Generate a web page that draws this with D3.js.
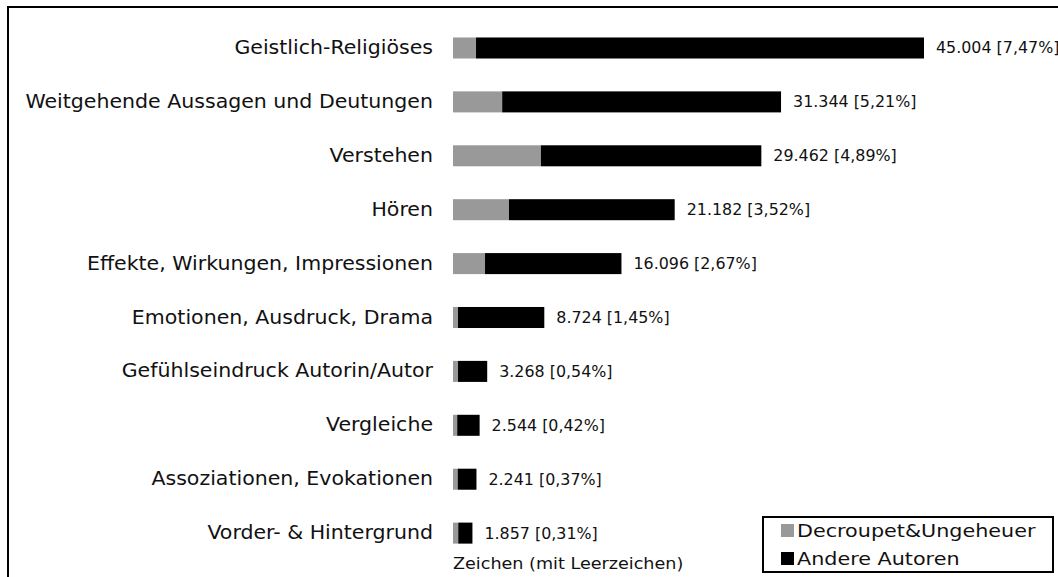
<!DOCTYPE html>
<html>
<head>
<meta charset="utf-8">
<script src="https://cdn.jsdelivr.net/npm/d3@7"></script>
<style>
  html, body { margin: 0; padding: 0; background: #fff; }
  svg { display: block; }
  text { font-family: "DejaVu Sans", sans-serif; fill: #111; }
</style>
</head>
<body>
<svg id="chart" width="1058" height="577"></svg>
<script>
const categories = [
  "Geistlich-Religiöses",
  "Weitgehende Aussagen und Deutungen",
  "Verstehen",
  "Hören",
  "Effekte, Wirkungen, Impressionen",
  "Emotionen, Ausdruck, Drama",
  "Gefühlseindruck Autorin/Autor",
  "Vergleiche",
  "Assoziationen, Evokationen",
  "Vorder- & Hintergrund"
];
const decroupetValues = [2200, 4700, 8400, 5350, 3060, 480, 480, 400, 450, 500];
const andereValues    = [42804, 26644, 21062, 15832, 13036, 8244, 2788, 2144, 1791, 1357];
const totalLabels     = ["45.004", "31.344", "29.462", "21.182", "16.096", "8.724", "3.268", "2.544", "2.241", "1.857"];
const percentLabels   = ["7,47%", "5,21%", "4,89%", "3,52%", "2,67%", "1,45%", "0,54%", "0,42%", "0,37%", "0,31%"];
const seriesNames     = ["Decroupet&Ungeheuer", "Andere Autoren"];
const seriesColors    = ["#999999", "#000000"];
const axisTitle       = "Zeichen (mit Leerzeichen)";

const svg = d3.select("#chart");

// outer frame
svg.append("rect")
  .attr("x", 8).attr("y", 7)
  .attr("width", 1100).attr("height", 620)
  .attr("fill", "none").attr("stroke", "#000").attr("stroke-width", 2);

const x = d3.scaleLinear().domain([0, 45004]).range([453, 924]);
const y = d3.scaleBand().domain(categories).range([4.6, 576.5]).padding(0.61);

const rows = categories.map((c, i) => ({
  cat: c, d: decroupetValues[i], a: andereValues[i],
  label: totalLabels[i] + " [" + percentLabels[i] + "]"
}));

const g = svg.append("g");

// Decroupet segment
g.selectAll("rect.d").data(rows).join("rect")
  .attr("class", "d")
  .attr("x", d => x(0))
  .attr("y", d => y(d.cat))
  .attr("width", d => x(d.d) - x(0))
  .attr("height", y.bandwidth())
  .attr("fill", seriesColors[0]);

// Andere segment
g.selectAll("rect.a").data(rows).join("rect")
  .attr("class", "a")
  .attr("x", d => x(d.d))
  .attr("y", d => y(d.cat))
  .attr("width", d => x(d.d + d.a) - x(d.d))
  .attr("height", y.bandwidth())
  .attr("fill", seriesColors[1]);

// value labels
g.selectAll("text.v").data(rows).join("text")
  .attr("class", "v")
  .attr("transform", d => `translate(${x(d.d + d.a) + 12},${y(d.cat) + y.bandwidth() / 2}) scale(1.06,1)`)
  .attr("dy", "0.36em")
  .attr("font-size", 15)
  .text(d => d.label);

// category axis labels
const yAxis = d3.axisLeft(y).tickSize(0).tickPadding(0);
const ax = svg.append("g").attr("transform", "translate(433,0)").call(yAxis);
ax.select(".domain").remove();
ax.selectAll("text")
  .attr("font-size", 19)
  .attr("transform", "scale(1.08,1)")
  .style("font-family", '"DejaVu Sans", sans-serif')
  .attr("fill", "#111");

// axis title
svg.append("text")
  .attr("transform", "translate(453,569) scale(1.1,1)")
  .attr("font-size", 16)
  .text(axisTitle);

// legend
const lg = svg.append("g");
lg.append("rect")
  .attr("x", 763).attr("y", 517).attr("width", 290).attr("height", 55)
  .attr("fill", "#fff").attr("stroke", "#000").attr("stroke-width", 2);
seriesNames.forEach((n, i) => {
  lg.append("rect")
    .attr("x", 781).attr("y", 524 + i * 28).attr("width", 13).attr("height", 13)
    .attr("fill", seriesColors[i]);
  lg.append("text")
    .attr("transform", `translate(797,${537 + i * 28}) scale(1.12,1)`)
    .attr("font-size", 18.5)
    .text(n);
});
</script>
</body>
</html>
